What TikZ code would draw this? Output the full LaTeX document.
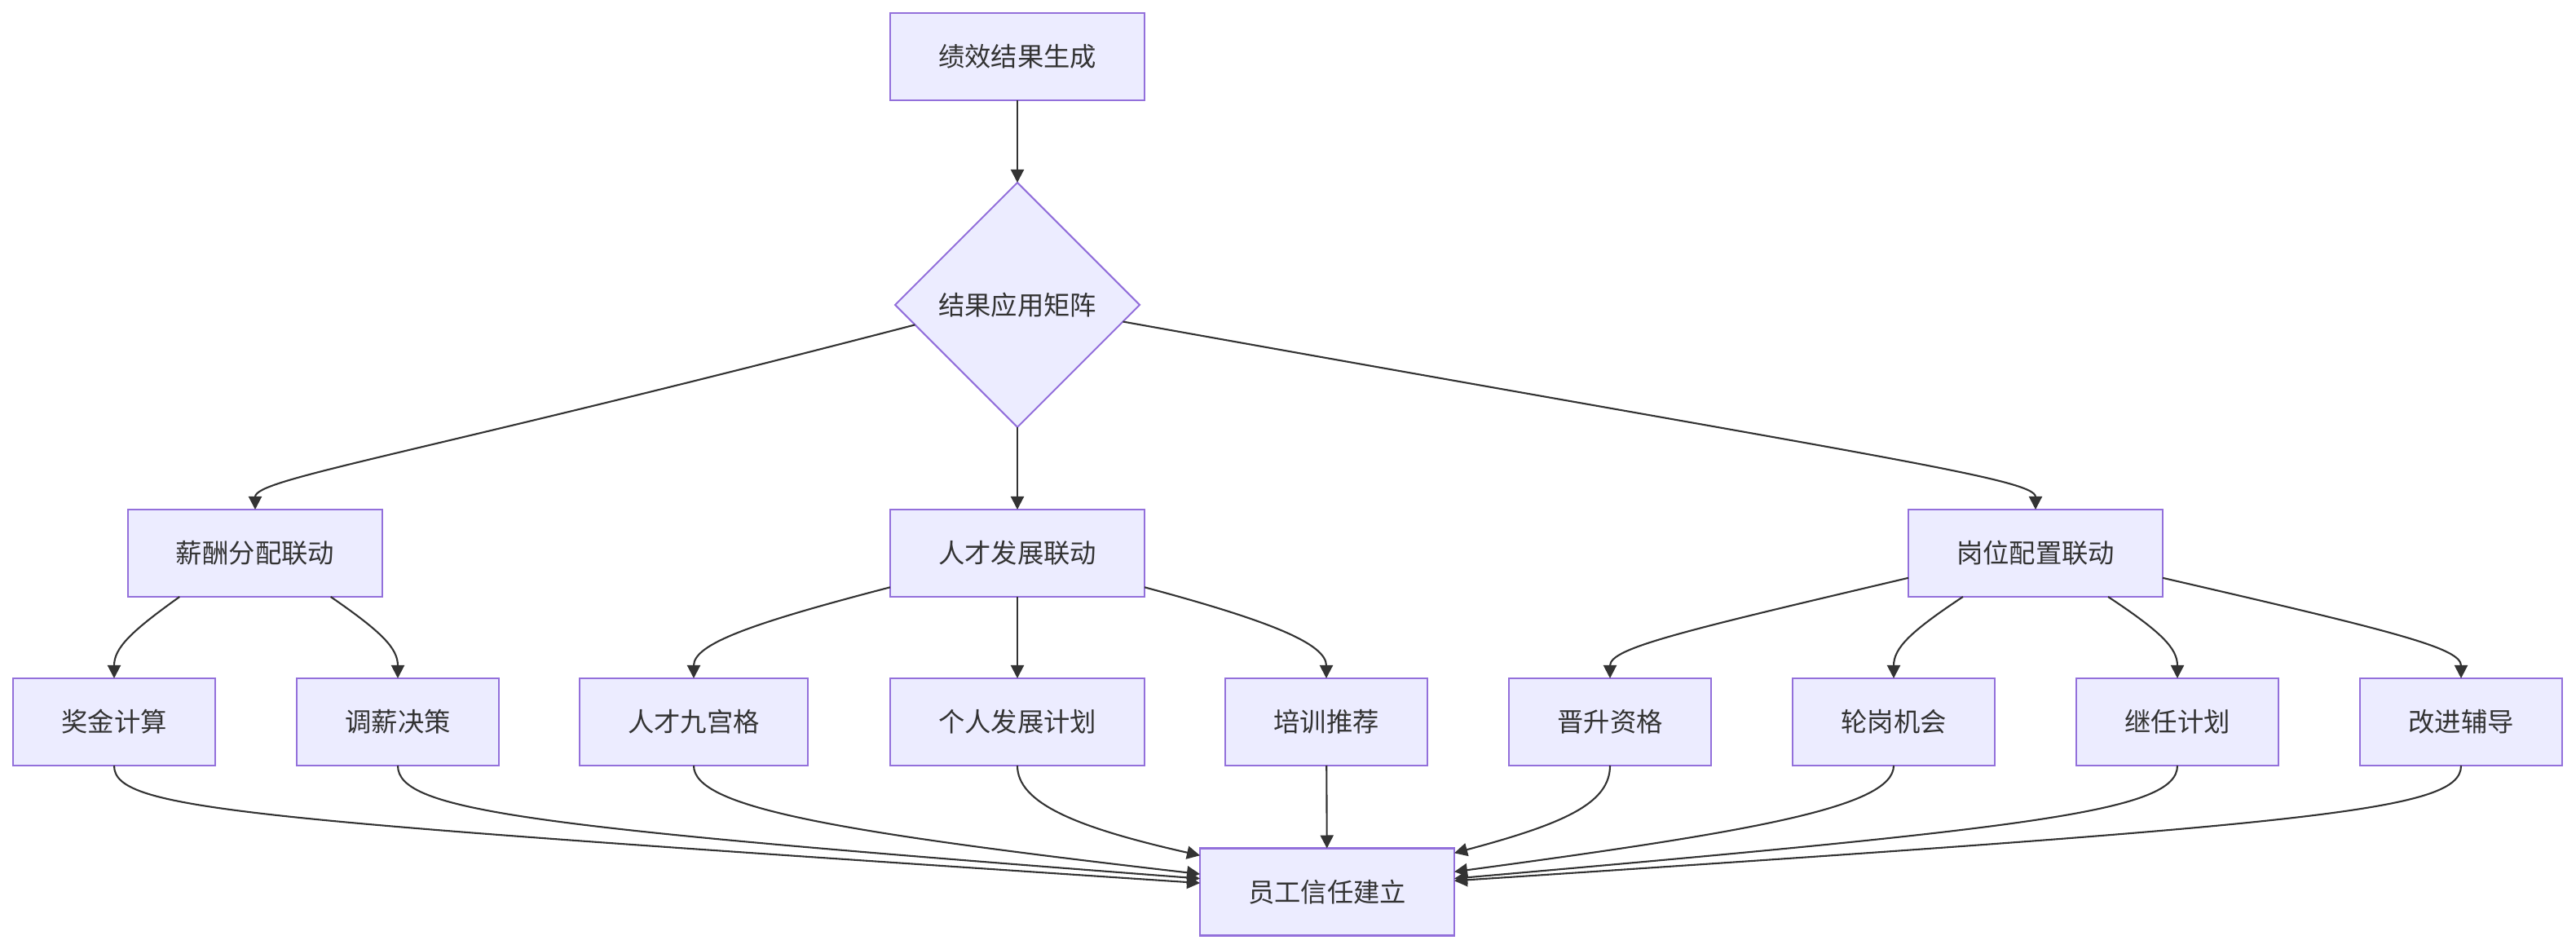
\documentclass[tikz,border=0pt]{standalone}
\usepackage{fontspec}
\newfontfamily\cjk{Noto Sans CJK SC}
\usetikzlibrary{shapes.geometric, arrows.meta}
\definecolor{nodefill}{HTML}{ECECFF}
\definecolor{nodeline}{HTML}{9370DB}
\definecolor{ink}{HTML}{333333}

\begin{document}
\begin{tikzpicture}[font=\cjk\fontsize{9.2pt}{11pt}\selectfont,
  box/.style={draw=nodeline, fill=nodefill, text=ink, line width=0.6pt, inner xsep=0.59cm, minimum height=1.07cm, outer sep=0pt},
  decision/.style={diamond, draw=nodeline, fill=nodefill, text=ink, line width=0.6pt, inner sep=0pt, minimum width=3.0cm, minimum height=3.0cm, outer sep=0pt},
  link/.style={draw=ink, line width=0.6pt, -{Triangle[length=0.16cm, width=0.16cm]}}]
  \useasboundingbox (0,0) rectangle (31.6,-11.64);
  % nodes
  \node[box] (gen) at (12.48,-0.695) {绩效结果生成};
  \node[decision] (matrix) at (12.48,-3.74) {结果应用矩阵};
  \node[box] (comp) at (3.13,-6.785) {薪酬分配联动};
  \node[box] (talent) at (12.48,-6.785) {人才发展联动};
  \node[box] (post) at (24.97,-6.785) {岗位配置联动};
  \foreach \n/\x/\t in {bonus/1.40/奖金计算, raise/4.88/调薪决策, grid/8.51/人才九宫格,
      idp/12.48/个人发展计划, train/16.27/培训推荐, promo/19.75/晋升资格,
      rotate/23.23/轮岗机会, succ/26.71/继任计划, improve/30.19/改进辅导}
    \node[box] (\n) at (\x,-8.855) {\t};
  \node[box] (trust) at (16.28,-10.94) {员工信任建立};
  % top
  \draw[link] (gen) -- (matrix);
  \draw[link] (matrix.191) .. controls (5.0,-5.6) and (3.13,-5.87) .. (comp.north);
  \draw[link] (matrix) -- (talent);
  \draw[link] (matrix.351) .. controls (23.0,-5.6) and (24.97,-5.87) .. (post.north);
  % second row to third row
  \draw[link] (comp.210) .. controls (1.6,-7.75) and (1.40,-7.95) .. (bonus.north);
  \draw[link] (comp.330) .. controls (4.68,-7.75) and (4.88,-7.95) .. (raise.north);
  \draw[link] (talent.195) .. controls (9.2,-7.65) and (8.51,-7.9) .. (grid.north);
  \draw[link] (talent) -- (idp);
  \draw[link] (talent.345) .. controls (15.6,-7.62) and (16.27,-7.9) .. (train.north);
  \draw[link] (post.191) .. controls (20.6,-7.75) and (19.75,-7.95) .. (promo.north);
  \draw[link] (post.211) .. controls (23.43,-7.75) and (23.23,-7.95) .. (rotate.north);
  \draw[link] (post.329) .. controls (26.51,-7.75) and (26.71,-7.95) .. (succ.north);
  \draw[link] (post.349) .. controls (29.4,-7.75) and (30.19,-7.95) .. (improve.north);
  % third row to trust
  \draw[link] (bonus.south) .. controls (1.40,-9.95) and (3.0,-10.05) .. (trust.176);
  \draw[link] (raise.south) .. controls (4.88,-9.95) and (6.5,-10.15) .. (trust.174);
  \draw[link] (grid.south) .. controls (8.51,-9.9) and (10.2,-10.2) .. (trust.172);
  \draw[link] (idp.south) .. controls (12.48,-9.85) and (13.2,-10.15) .. (trust.164);
  \draw[link] (train) -- (trust);
  \draw[link] (promo.south) .. controls (19.75,-9.85) and (19.2,-10.1) .. (trust.17);
  \draw[link] (rotate.south) .. controls (23.23,-9.9) and (21.5,-10.2) .. (trust.9);
  \draw[link] (succ.south) .. controls (26.71,-9.95) and (25.0,-10.15) .. (trust.6);
  \draw[link] (improve.south) .. controls (30.19,-9.95) and (28.5,-10.1) .. (trust.5);
\end{tikzpicture}
\end{document}
